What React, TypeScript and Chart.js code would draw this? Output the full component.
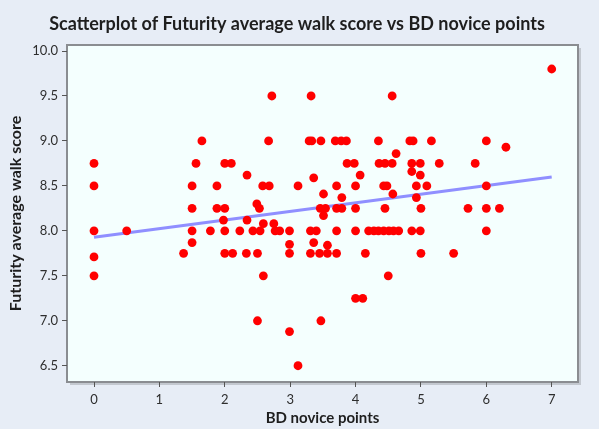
import React, { useEffect, useRef } from "react";
import { Chart, registerables } from "chart.js";

Chart.register(...registerables);

const TITLE = "Scatterplot of Futurity average walk score vs BD novice points";
const X_TITLE = "BD novice points";
const Y_TITLE = "Futurity average walk score";

const noviceX: number[] = [
  0, 0, 0, 0, 0, 0.5, 1.37, 1.5, 1.5, 1.5, 1.5, 1.56, 1.65, 1.78, 1.88, 1.88,
  2.0, 2.0, 1.98, 2.0, 2.0, 2.1, 2.12, 2.23, 2.34, 2.34, 2.33, 2.43, 2.49, 2.53,
  2.5, 2.5, 2.54, 2.58, 2.59, 2.59, 2.67, 2.68, 2.72, 2.75, 2.77, 2.84, 2.99,
  2.99, 2.99, 2.99, 3.12, 3.12, 3.29, 3.33, 3.32, 3.31, 3.31, 3.36, 3.36, 3.4,
  3.46, 3.45, 3.47, 3.47, 3.51, 3.51, 3.54, 3.57, 3.57, 3.69, 3.71, 3.71, 3.71,
  3.71, 3.78, 3.79, 3.79, 3.86, 3.87, 3.98, 4.0, 4.0, 4.0, 4.0, 4.07, 4.11, 4.15,
  4.2, 4.28, 4.35, 4.43, 4.51, 4.58, 4.66, 4.35, 4.36, 4.45, 4.45, 4.43, 4.48,
  4.5, 4.56, 4.56, 4.57, 4.62, 4.83, 4.88, 4.86, 4.86, 4.86, 4.93, 4.93, 4.99,
  4.99, 5.0, 4.99, 5.0, 5.09, 5.16, 5.28, 5.5, 5.72, 5.83, 6.0, 6.0, 6.0, 6.0,
  6.2, 6.3, 7.0,
];

const walkY: number[] = [
  8.75, 8.5, 8.0, 7.71, 7.5, 8.0, 7.75, 8.5, 8.25, 8.0, 7.87, 8.75, 9.0, 8.0,
  8.5, 8.25, 8.75, 8.25, 8.12, 8.0, 7.75, 8.75, 7.75, 8.0, 8.62, 8.12, 7.75,
  8.0, 8.3, 8.25, 7.75, 7.0, 8.0, 8.5, 8.08, 7.5, 9.0, 8.5, 9.5, 8.08, 8.0, 8.0,
  8.0, 7.85, 7.75, 6.88, 8.5, 6.5, 9.0, 9.0, 9.5, 8.0, 7.75, 8.59, 7.87, 8.0,
  8.25, 7.75, 9.0, 7.0, 8.41, 8.17, 8.25, 7.84, 7.75, 9.0, 8.5, 8.25, 8.0, 7.75,
  9.0, 8.37, 8.25, 9.0, 8.75, 8.75, 8.5, 8.25, 8.0, 7.25, 8.62, 7.25, 7.75, 8.0,
  8.0, 8.0, 8.0, 8.0, 8.0, 8.0, 9.0, 8.75, 8.75, 8.25, 8.5, 8.5, 7.5, 9.5, 8.75,
  8.41, 8.86, 9.0, 9.0, 8.75, 8.66, 8.0, 8.5, 8.37, 8.75, 8.62, 8.25, 8.0, 7.75,
  8.5, 9.0, 8.75, 7.75, 8.25, 8.75, 9.0, 8.5, 8.25, 8.0, 8.25, 8.93, 9.8,
];

const fitX: number[] = [0, 7];
const fitY: number[] = [7.93, 8.6];

const xTicks: number[] = [0, 1, 2, 3, 4, 5, 6, 7];
const yTicks: number[] = [6.5, 7.0, 7.5, 8.0, 8.5, 9.0, 9.5, 10.0];

const OUTER_BG = "#e7edf6";
const PLOT_BG = "#f4fffe";

export default function App() {
  const ref = useRef<HTMLCanvasElement | null>(null);

  useEffect(() => {
    document.body.style.margin = "0";
    const canvas = ref.current;
    if (!canvas) return;

    const decor = {
      id: "decor",
      beforeDraw(chart: any) {
        const { ctx, chartArea: a } = chart;
        ctx.save();
        ctx.fillStyle = OUTER_BG;
        ctx.fillRect(0, 0, chart.width, chart.height);
        ctx.fillStyle = "#c3c8cf";
        ctx.fillRect(a.left + 3, a.top + 3, a.right - a.left, a.bottom - a.top);
        ctx.fillStyle = PLOT_BG;
        ctx.fillRect(a.left, a.top, a.right - a.left, a.bottom - a.top);
        ctx.strokeStyle = "#8a8d91";
        ctx.lineWidth = 2;
        ctx.strokeRect(a.left, a.top, a.right - a.left, a.bottom - a.top);
        ctx.restore();
      },
      afterDraw(chart: any) {
        const { ctx, chartArea: a } = chart;
        ctx.save();
        ctx.fillStyle = "#1e1e1e";
        ctx.textAlign = "center";
        ctx.textBaseline = "middle";
        ctx.font = "bold 18px Lato";
        ctx.fillText(TITLE, 297, 24);
        ctx.font = "bold 15px Lato";
        ctx.fillText(X_TITLE, (a.left + a.right) / 2, 418);
        ctx.font = "bold 16px Lato";
        ctx.translate(16, (a.top + a.bottom) / 2);
        ctx.rotate(-Math.PI / 2);
        ctx.fillText(Y_TITLE, 0, 0);
        ctx.restore();
      },
    };

    const chart = new Chart(canvas, {
      type: "scatter",
      data: {
        datasets: [
          {
            label: "points",
            data: noviceX.map((x, i) => ({ x, y: walkY[i] })),
            backgroundColor: "#ff0000",
            borderColor: "#ff0000",
            pointRadius: 4.4,
            borderWidth: 0,
            order: 0,
          },
          {
            label: "fit",
            type: "line",
            data: fitX.map((x, i) => ({ x, y: fitY[i] })),
            borderColor: "#8f8fff",
            borderWidth: 3,
            pointRadius: 0,
            fill: false,
            order: 1,
          } as any,
        ],
      },
      options: {
        responsive: false,
        animation: false,
        events: [],
        layout: { padding: { top: 45, right: 21, left: 0, bottom: 0 } },
        plugins: {
          legend: { display: false },
          title: { display: false },
          tooltip: { enabled: false },
        },
        scales: {
          x: {
            type: "linear",
            min: -0.413,
            max: 7.402,
            afterFit(scale: any) {
              scale.height = 47;
            },
            afterBuildTicks(scale: any) {
              scale.ticks = xTicks.map((v) => ({ value: v }));
            },
            grid: {
              drawOnChartArea: false,
              drawTicks: true,
              tickLength: 5,
              color: "#555",
              lineWidth: 1,
            },
            border: { display: false },
            ticks: {
              padding: 5,
              color: "#2e2e2e",
              font: { family: "Lato", size: 13 },
              callback: (v: any) => String(v),
            },
          },
          y: {
            type: "linear",
            min: 6.319,
            max: 10.067,
            afterFit(scale: any) {
              scale.width = 67;
            },
            afterBuildTicks(scale: any) {
              scale.ticks = yTicks.map((v) => ({ value: v }));
            },
            grid: {
              drawOnChartArea: false,
              drawTicks: true,
              tickLength: 5,
              color: "#555",
              lineWidth: 1,
            },
            border: { display: false },
            ticks: {
              padding: 4,
              color: "#2e2e2e",
              font: { family: "Lato", size: 13 },
              callback: (v: any) => Number(v).toFixed(1),
            },
          },
        },
      },
      plugins: [decor],
    });

    return () => chart.destroy();
  }, []);

  return (
    <div style={{ position: "absolute", left: 0, top: 0, width: 599, height: 429 }}>
      <canvas ref={ref} width={599} height={429} style={{ display: "block" }} />
    </div>
  );
}
